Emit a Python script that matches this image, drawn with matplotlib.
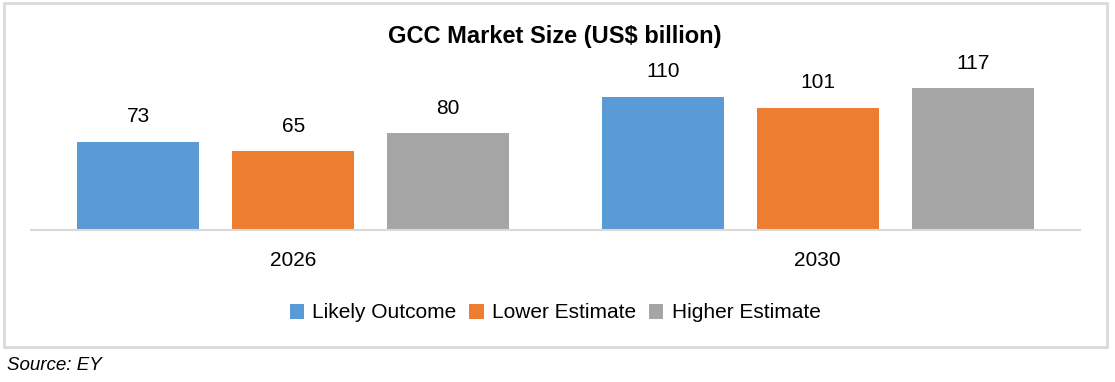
import matplotlib
matplotlib.use("Agg")
import matplotlib.pyplot as plt
from matplotlib.patches import Rectangle, Patch
import numpy as np

plt.rcParams['font.family'] = ['Liberation Sans', 'DejaVu Sans']

categories = ["2026", "2030"]
series_names = ["Likely Outcome", "Lower Estimate", "Higher Estimate"]
likely = [73, 110]
lower = [65, 101]
higher = [80, 117]
colors = ["#5B9BD5", "#ED7D31", "#A5A5A5"]
title = "GCC Market Size (US$ billion)"
source = "Source: EY"

W, H = 1115, 382
fig = plt.figure(figsize=(W / 100, H / 100), dpi=100)

def fx(px):
    return px / W

def fy(py):
    return 1 - py / H

ax_left, ax_right = 31, 1080
ax_bottom, ax_top = 230, 36.4
ax = fig.add_axes([fx(ax_left), fy(ax_bottom), fx(ax_right - ax_left), (ax_bottom - ax_top) / H])

x = np.arange(len(categories))
bw = 0.2326
off = 0.2955
for i, (vals, c) in enumerate(zip([likely, lower, higher], colors)):
    pos = x + (i - 1) * off
    bars = ax.bar(pos, vals, width=bw, color=c, zorder=2)
    for b, v in zip(bars, vals):
        ax.annotate(str(v), (b.get_x() + b.get_width() / 2, v), xytext=(0, 18),
                    textcoords="offset points", ha="center", va="center", fontsize=15)

ax.set_xlim(-0.5, 1.5)
ax.set_ylim(0, 160)
for s in ["top", "right", "left"]:
    ax.spines[s].set_visible(False)
ax.spines["bottom"].set_color("#d9d9d9")
ax.spines["bottom"].set_linewidth(1.5)
ax.set_yticks([])
ax.set_xticks(x)
ax.set_xticklabels(categories, fontsize=15)
ax.tick_params(axis="x", length=0, pad=15)
ax.patch.set_alpha(0)

fig.text(fx(555), fy(37), title, ha="center", va="center", fontsize=17, fontweight="bold")

handles = [Patch(facecolor=c, edgecolor="none") for c in colors]
fig.legend(handles, series_names, loc="center", bbox_to_anchor=(fx(555), fy(313)), ncol=3,
           frameon=False, fontsize=15, handlelength=0.7, handleheight=0.7,
           handletextpad=0.4, columnspacing=0.6, borderpad=0, borderaxespad=0)

fig.patches.append(Rectangle((fx(4), fy(347)), fx(1107 - 4), (347 - 3) / H,
                             transform=fig.transFigure, fill=False, edgecolor="#d9d9d9",
                             linewidth=2))

fig.text(fx(7), fy(365), source, ha="left", va="center", fontsize=13.5, style="italic")

fig.savefig("out.png", dpi=100)
